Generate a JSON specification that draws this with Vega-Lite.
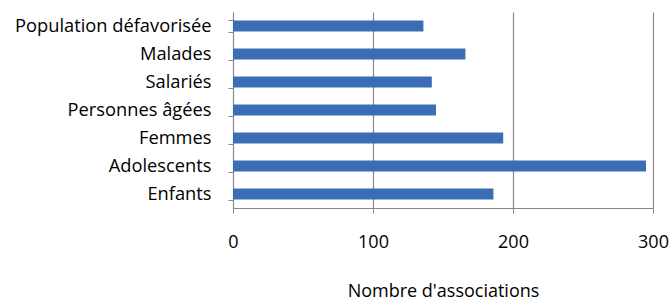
{
  "$schema": "https://vega.github.io/schema/vega-lite/v6.json",
  "autosize": {"type": "none"},
  "width": 420,
  "height": 196,
  "padding": {"left": 233, "top": 12, "right": 19, "bottom": 92},
  "background": "white",
  "config": {
    "view": {"stroke": null},
    "font": "Open Sans"
  },
  "data": {
    "values": [
      {"cat": "Population défavorisée", "n": 136},
      {"cat": "Malades", "n": 166},
      {"cat": "Salariés", "n": 142},
      {"cat": "Personnes âgées", "n": 145},
      {"cat": "Femmes", "n": 193},
      {"cat": "Adolescents", "n": 295},
      {"cat": "Enfants", "n": 186}
    ]
  },
  "mark": {"type": "bar", "color": "#3A6DB4"},
  "encoding": {
    "y": {
      "field": "cat",
      "type": "nominal",
      "sort": null,
      "scale": {"paddingInner": 0.6, "paddingOuter": 0.3},
      "axis": {
        "title": null,
        "tickBand": "extent",
        "tickSize": 5,
        "tickColor": "#888888",
        "domainColor": "#888888",
        "labelFontSize": 18.3,
        "labelColor": "#000000",
        "labelPadding": 17,
        "labelLimit": 400,
        "labelFont": "Open Sans",
        "grid": false
      }
    },
    "x": {
      "field": "n",
      "type": "quantitative",
      "scale": {"domain": [0, 300], "nice": false},
      "axis": {
        "title": "Nombre d'associations",
        "titleFontSize": 18,
        "titleFontWeight": "normal",
        "titleColor": "#000000",
        "titlePadding": 31,
        "values": [0, 100, 200, 300],
        "grid": true,
        "gridColor": "#888888",
        "gridWidth": 1.2,
        "tickColor": "#888888",
        "domainColor": "#888888",
        "tickSize": 5,
        "labelFontSize": 18,
        "labelColor": "#000000",
        "labelPadding": 20,
        "labelFlush": false
      }
    }
  }
}
